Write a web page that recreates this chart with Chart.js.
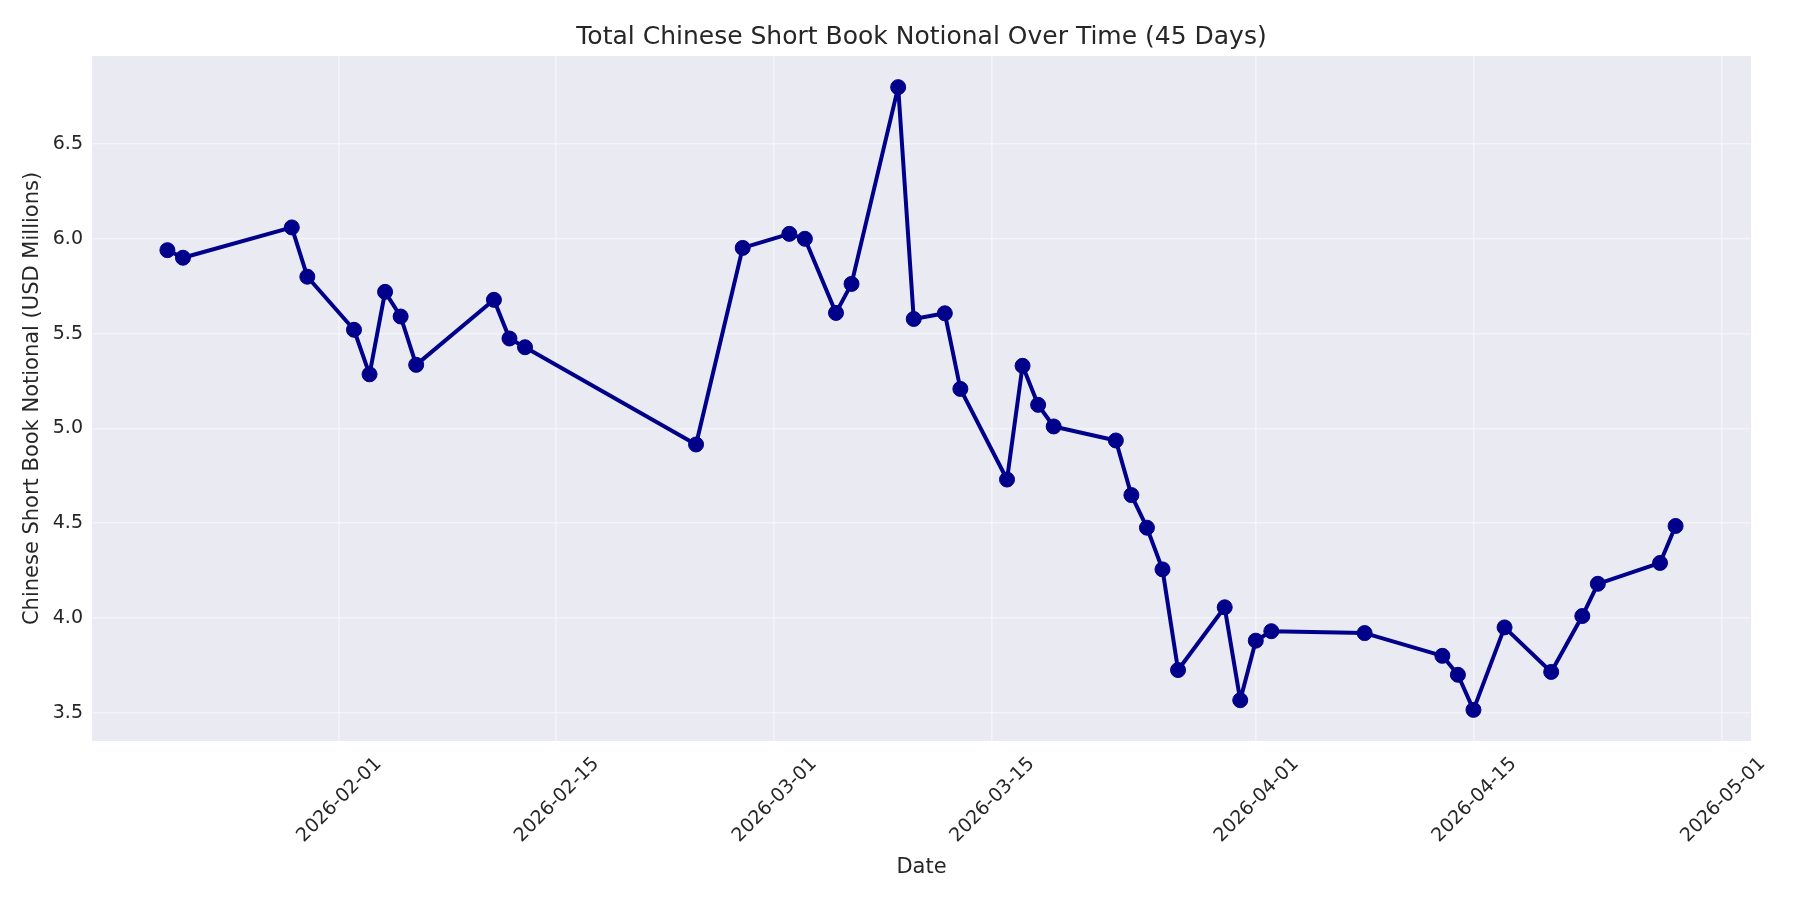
<!DOCTYPE html>
<html>
<head>
<meta charset="utf-8">
<title>Total Chinese Short Book Notional Over Time</title>
<script src="https://cdn.jsdelivr.net/npm/chart.js@4.4.1/dist/chart.umd.min.js"></script>
<style>
  html, body { margin: 0; padding: 0; background: #fff; }
  #wrap { width: 1800px; height: 900px; }
</style>
</head>
<body>
<div id="wrap"><canvas id="chart" width="1800" height="900"></canvas></div>
<script>
// data
const dates = [
  '2026-01-21', '2026-01-22', '2026-01-29', '2026-01-30', '2026-02-02',
  '2026-02-03', '2026-02-04', '2026-02-05', '2026-02-06', '2026-02-11',
  '2026-02-12', '2026-02-13', '2026-02-24', '2026-02-27', '2026-03-02',
  '2026-03-03', '2026-03-05', '2026-03-06', '2026-03-09', '2026-03-10',
  '2026-03-12', '2026-03-13', '2026-03-16', '2026-03-17', '2026-03-18',
  '2026-03-19', '2026-03-23', '2026-03-24', '2026-03-25', '2026-03-26',
  '2026-03-27', '2026-03-30', '2026-03-31', '2026-04-01', '2026-04-02',
  '2026-04-08', '2026-04-13', '2026-04-14', '2026-04-15', '2026-04-17',
  '2026-04-20', '2026-04-22', '2026-04-23', '2026-04-27', '2026-04-28'
];
const notional = [
  5.94, 5.90, 6.06, 5.80, 5.52,
  5.285, 5.72, 5.59, 5.335, 5.678,
  5.474, 5.428, 4.915, 5.952, 6.026,
  6.00, 5.609, 5.762, 6.80, 5.577,
  5.607, 5.208, 4.73, 5.33, 5.124,
  5.01, 4.936, 4.648, 4.476, 4.256,
  3.725, 4.056, 3.566, 3.88, 3.93,
  3.92, 3.80, 3.70, 3.515, 3.95,
  3.715, 4.01, 4.18, 4.29, 4.485
];
const xTickLabels = ['2026-02-01', '2026-02-15', '2026-03-01', '2026-03-15', '2026-04-01', '2026-04-15', '2026-05-01'];
const yTickValues = [3.5, 4.0, 4.5, 5.0, 5.5, 6.0, 6.5];

const TEXT = '#262626';
const FONT = "'DejaVu Sans', sans-serif";

// timestamps for a linear x axis (no date adapter available)
const xs = dates.map(d => Date.parse(d + 'T00:00:00Z'));
const points = xs.map((x, i) => ({ x: x, y: notional[i] }));

// matplotlib style 5% margins
function padRange(arr) {
  const lo = Math.min(...arr), hi = Math.max(...arr);
  const m = (hi - lo) * 0.05;
  return [lo - m, hi + m];
}
const [xMin, xMax] = padRange(xs);
const [yMin, yMax] = padRange(notional);

// grey plot background like seaborn darkgrid
const plotBg = {
  id: 'plotBg',
  beforeDraw(chart) {
    const { ctx, chartArea: a } = chart;
    ctx.save();
    ctx.fillStyle = '#EAEAF2';
    ctx.fillRect(a.left, a.top, a.right - a.left, a.bottom - a.top);
    ctx.restore();
  }
};

new Chart(document.getElementById('chart').getContext('2d'), {
  type: 'line',
  data: {
    datasets: [{
      data: points,
      borderColor: '#00008B',
      backgroundColor: '#00008B',
      borderWidth: 4,
      borderJoinStyle: 'round',
      borderCapStyle: 'round',
      pointRadius: 7.5,
      pointBorderWidth: 1,
      pointBackgroundColor: '#00008B',
      pointBorderColor: '#00008B',
      tension: 0
    }]
  },
  options: {
    responsive: false,
    devicePixelRatio: 1,
    animation: false,
    layout: { padding: { left: 0, right: 49, top: 0, bottom: 0 } },
    plugins: {
      legend: { display: false },
      tooltip: { enabled: false },
      title: {
        display: true,
        text: 'Total Chinese Short Book Notional Over Time (45 Days)',
        color: TEXT,
        fullSize: false,
        font: { family: FONT, size: 25, weight: 'normal' },
        padding: { top: 22, bottom: 4 }
      }
    },
    scales: {
      x: {
        type: 'linear',
        min: xMin,
        max: xMax,
        afterBuildTicks: axis => {
          axis.ticks = xTickLabels.map(d => ({ value: Date.parse(d + 'T00:00:00Z') }));
        },
        afterFit: axis => { axis.height = 159; },
        ticks: {
          color: TEXT,
          font: { family: FONT, size: 19 },
          autoSkip: false,
          minRotation: 45,
          maxRotation: 45,
          labelOffset: 40,
          padding: 12,
          callback: v => new Date(v).toISOString().slice(0, 10)
        },
        grid: { color: 'rgba(255,255,255,0.45)', lineWidth: 1.6, drawTicks: false },
        border: { display: false },
        title: {
          display: true,
          text: 'Date',
          color: TEXT,
          font: { family: FONT, size: 21 },
          padding: { top: 0, bottom: 20 }
        }
      },
      y: {
        min: yMin,
        max: yMax,
        afterBuildTicks: axis => {
          axis.ticks = yTickValues.map(v => ({ value: v }));
        },
        afterFit: axis => { axis.width = 92; },
        ticks: {
          color: TEXT,
          font: { family: FONT, size: 19 },
          padding: 9,
          callback: v => Number(v).toFixed(1)
        },
        grid: { color: 'rgba(255,255,255,0.45)', lineWidth: 1.6, drawTicks: false },
        border: { display: false },
        title: {
          display: true,
          text: 'Chinese Short Book Notional (USD Millions)',
          color: TEXT,
          font: { family: FONT, size: 21 },
          padding: { top: 20, bottom: 0 }
        }
      }
    }
  },
  plugins: [plotBg]
});
</script>
</body>
</html>
